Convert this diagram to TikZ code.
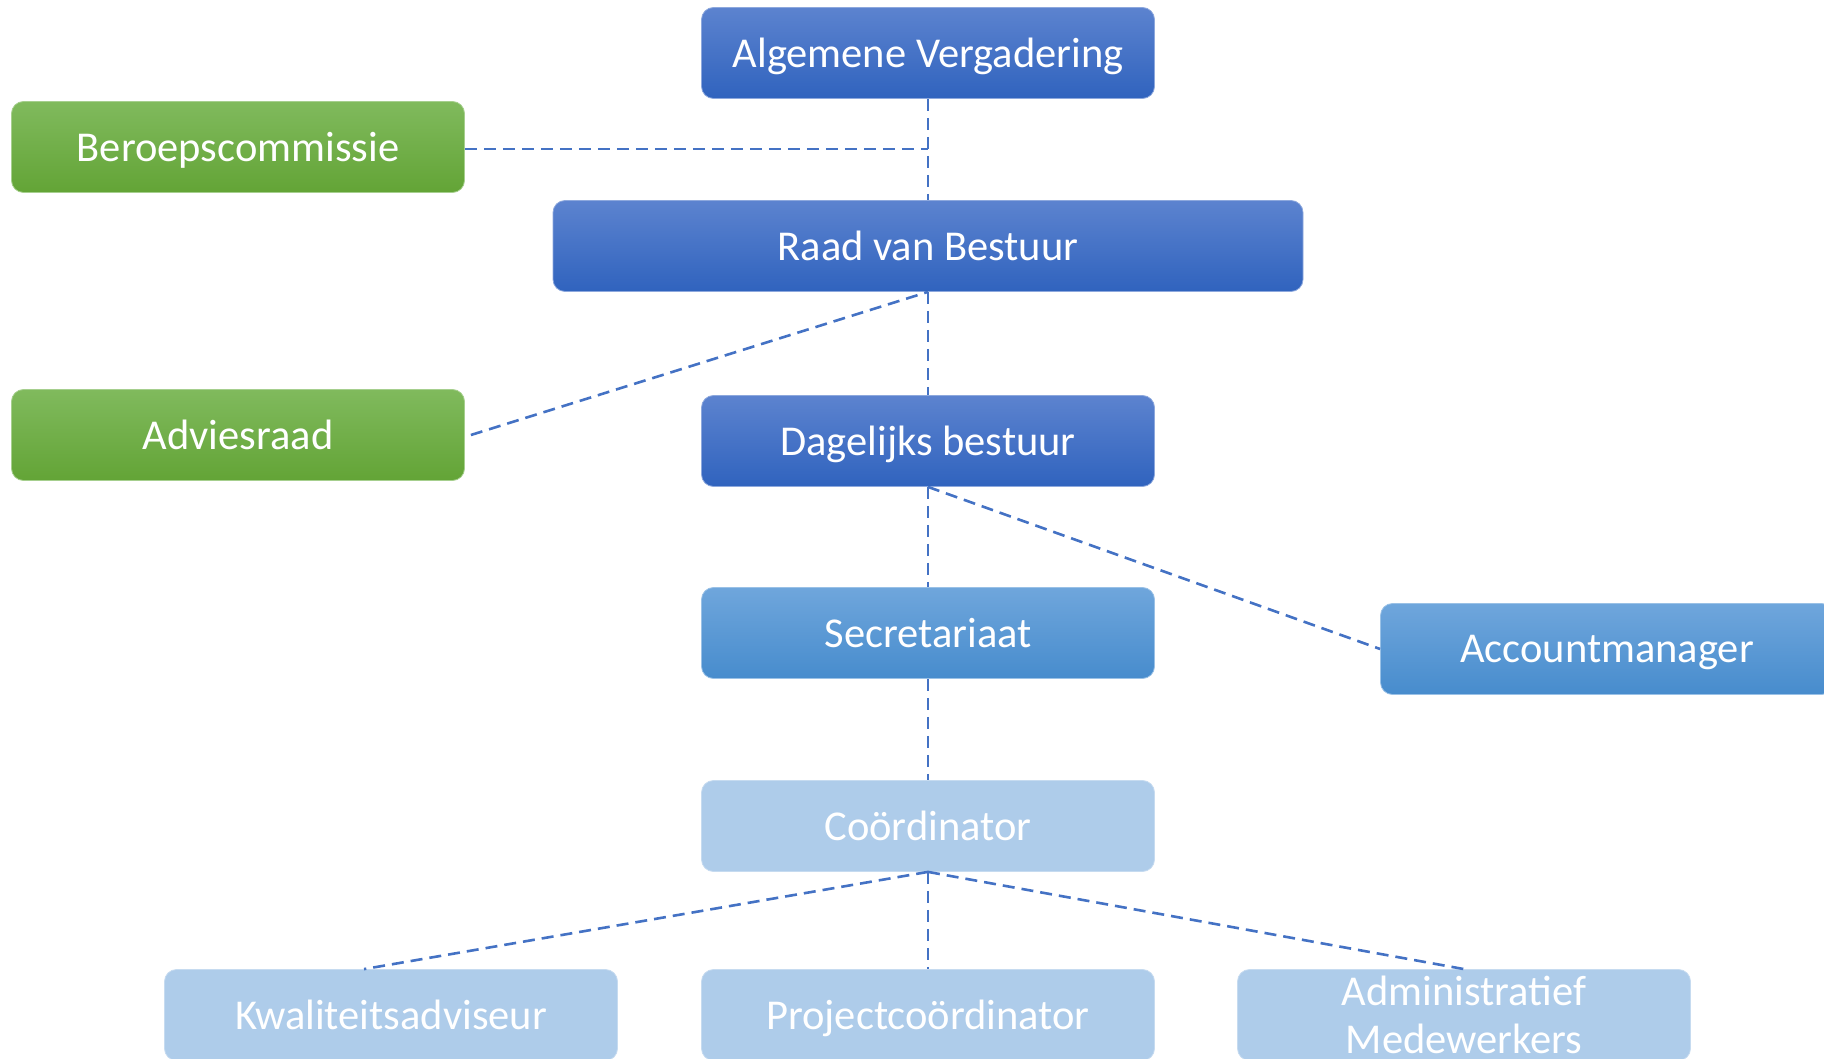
\documentclass[tikz,border=0pt]{standalone}
\usepackage{fontspec}
\setmainfont{Carlito}
\usepackage{xcolor}
\usepackage{tikz}
\definecolor{lijn}{RGB}{68,114,196}
\definecolor{donkerboven}{RGB}{92,131,207}
\definecolor{donkeronder}{RGB}{48,99,190}
\definecolor{groenboven}{RGB}{128,186,93}
\definecolor{groenonder}{RGB}{99,164,54}
\definecolor{middenboven}{RGB}{111,166,220}
\definecolor{middenonder}{RGB}{71,140,205}
\definecolor{licht}{RGB}{174,204,234}

\begin{document}
\begin{tikzpicture}[x=1pt,y=-1pt,
  box/.style={rectangle,rounded corners=12pt,minimum width=453pt,minimum height=91pt,
    text=white,font=\fontsize{42.5}{48}\selectfont,align=center,inner sep=0pt,text depth=0pt},
  donker/.style={box,top color=donkerboven,bottom color=donkeronder,draw=donkerboven!70!white,line width=0.8pt},
  groen/.style={box,top color=groenboven,bottom color=groenonder,draw=groenboven!70!white,line width=0.8pt},
  midden/.style={box,top color=middenboven,bottom color=middenonder,draw=middenboven!70!white,line width=0.8pt},
  licht/.style={box,fill=licht,draw=licht!70!white,line width=0.8pt},
  conn/.style={draw=lijn,line width=2.6pt,dash pattern=on 12pt off 7pt}]
\useasboundingbox (0,0) rectangle (1824,1059);
\node[donker] (av) at (928,53) {Algemene Vergadering};
\node[groen] (beroep) at (238,147) {Beroepscommissie};
\node[donker,minimum width=750pt] (rvb) at (928,246) {Raad van Bestuur};
\node[groen] (advies) at (238,435) {Adviesraad};
\node[donker] (db) at (928,441) {Dagelijks bestuur};
\node[midden] (sec) at (928,633) {Secretariaat};
\node[midden] (acc) at (1607,649) {Accountmanager};
\node[licht] (coord) at (928,826) {Coördinator};
\node[licht] (kwal) at (391,1015) {Kwaliteitsadviseur};
\node[licht] (proj) at (928,1015) {Projectcoördinator};
\node[licht] (adm) at (1464,1015) {Administratief\\Medewerkers};
\draw[conn] ([yshift=-2pt]beroep.east) -- ([yshift=-2pt]beroep.east -| av.south);
\draw[conn] (av.south) -- (rvb.north);
\draw[conn] (rvb.south) -- (db.north);
\draw[conn] ([xshift=6pt]advies.east) -- (rvb.south);
\draw[conn] (db.south) -- (sec.north);
\draw[conn] (db.south) -- (acc.west);
\draw[conn] (sec.south) -- (coord.north);
\draw[conn] (coord.south) -- (proj.north);
\draw[conn] (coord.south) -- ([xshift=-27pt]kwal.north);
\draw[conn] (coord.south) -- (adm.north);
\end{tikzpicture}
\end{document}
